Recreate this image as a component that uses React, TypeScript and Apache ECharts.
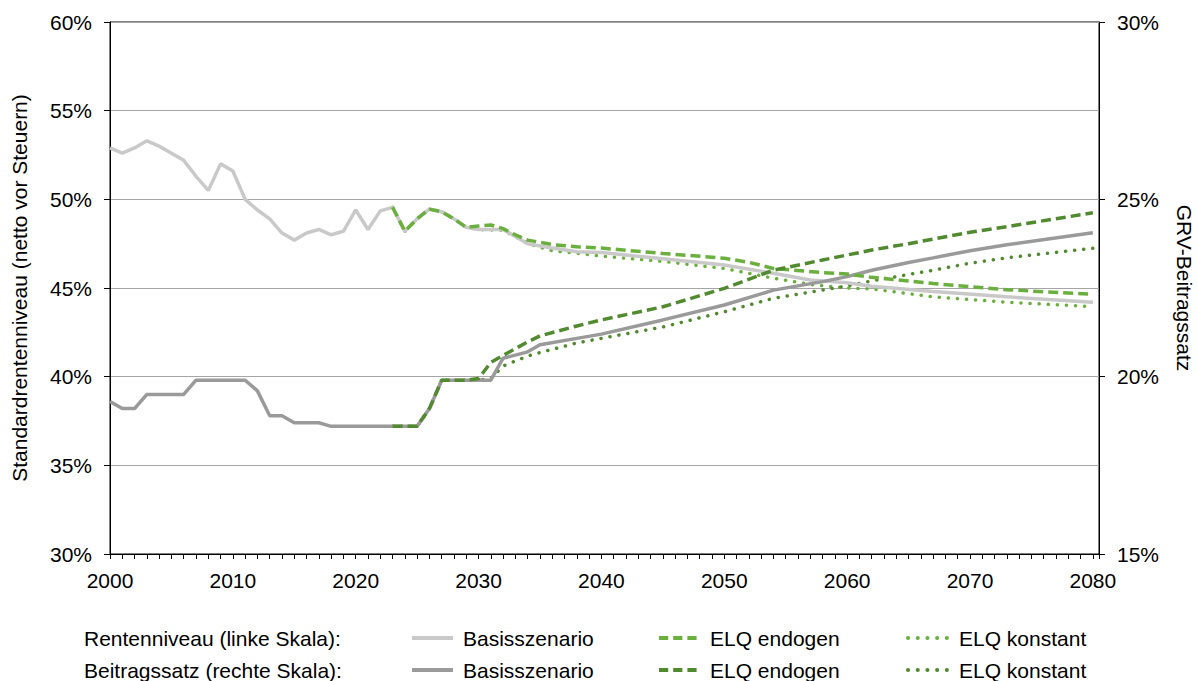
import React, { useEffect, useRef } from 'react';
import * as echarts from 'echarts';

// Rentenniveau (left axis, %)
const rnBasisYears = [2000, 2001, 2002, 2003, 2004, 2005, 2006, 2007, 2008, 2009, 2010, 2011, 2012, 2013, 2014, 2015, 2016, 2017, 2018, 2019, 2020, 2021, 2022, 2023, 2024, 2025, 2026, 2027, 2028, 2029, 2030, 2031, 2032, 2033, 2034, 2036, 2038, 2040, 2045, 2050, 2054, 2057, 2060, 2062, 2067, 2073, 2080];
const rnBasisValues = [52.9, 52.6, 52.9, 53.3, 53.0, 52.6, 52.2, 51.3, 50.5, 52.0, 51.6, 50.0, 49.4, 48.9, 48.1, 47.7, 48.1, 48.3, 48.0, 48.2, 49.4, 48.3, 49.35, 49.55, 48.2, 48.9, 49.45, 49.3, 48.9, 48.42, 48.3, 48.3, 48.3, 47.9, 47.5, 47.25, 47.05, 47.0, 46.65, 46.3, 45.83, 45.45, 45.3, 45.1, 44.8, 44.5, 44.2];

const rnEndoYears = [2023, 2024, 2025, 2026, 2027, 2028, 2029, 2030, 2031, 2032, 2033, 2034, 2036, 2038, 2040, 2045, 2050, 2052, 2054, 2058, 2060, 2062, 2067, 2073, 2080];
const rnEndoValues = [49.55, 48.2, 48.9, 49.45, 49.3, 48.9, 48.42, 48.5, 48.55, 48.35, 48.0, 47.7, 47.45, 47.32, 47.25, 46.95, 46.68, 46.45, 46.1, 45.87, 45.79, 45.6, 45.25, 44.9, 44.65];

const rnKonstYears = [2023, 2024, 2025, 2026, 2027, 2028, 2029, 2030, 2031, 2032, 2033, 2034, 2036, 2038, 2040, 2045, 2050, 2054, 2057, 2060, 2062, 2067, 2073, 2080];
const rnKonstValues = [49.55, 48.2, 48.9, 49.45, 49.3, 48.9, 48.42, 48.3, 48.27, 48.25, 47.9, 47.5, 47.1, 46.96, 46.8, 46.5, 46.1, 45.55, 45.2, 45.0, 44.95, 44.5, 44.2, 43.95];

// Beitragssatz (right axis, %)
const bsBasisYears = [2000, 2001, 2002, 2003, 2004, 2005, 2006, 2007, 2008, 2009, 2010, 2011, 2012, 2013, 2014, 2015, 2016, 2017, 2018, 2019, 2020, 2021, 2022, 2023, 2024, 2025, 2026, 2027, 2028, 2029, 2030, 2031, 2032, 2034, 2035, 2038, 2040, 2045, 2050, 2054, 2058, 2060, 2062, 2065, 2067, 2070, 2073, 2080];
const bsBasisValues = [19.3, 19.1, 19.1, 19.5, 19.5, 19.5, 19.5, 19.9, 19.9, 19.9, 19.9, 19.9, 19.6, 18.9, 18.9, 18.7, 18.7, 18.7, 18.6, 18.6, 18.6, 18.6, 18.6, 18.6, 18.6, 18.6, 19.1, 19.9, 19.9, 19.9, 19.9, 19.9, 20.52, 20.7, 20.9, 21.08, 21.2, 21.6, 22.02, 22.44, 22.68, 22.82, 23.0, 23.22, 23.35, 23.55, 23.72, 24.06];

const bsEndoYears = [2023, 2024, 2025, 2026, 2027, 2028, 2029, 2030, 2031, 2032, 2034, 2035, 2038, 2040, 2045, 2050, 2054, 2058, 2060, 2062, 2065, 2067, 2070, 2073, 2080];
const bsEndoValues = [18.6, 18.6, 18.6, 19.1, 19.9, 19.9, 19.9, 19.95, 20.4, 20.6, 20.98, 21.15, 21.43, 21.6, 21.97, 22.49, 23.0, 23.29, 23.43, 23.57, 23.75, 23.88, 24.07, 24.23, 24.62];

const bsKonstYears = [2023, 2024, 2025, 2026, 2027, 2028, 2029, 2030, 2031, 2032, 2034, 2035, 2038, 2040, 2045, 2050, 2054, 2058, 2060, 2062, 2065, 2067, 2070, 2073, 2080];
const bsKonstValues = [18.6, 18.6, 18.6, 19.1, 19.9, 19.9, 19.9, 19.9, 19.95, 20.3, 20.58, 20.68, 20.95, 21.08, 21.4, 21.83, 22.21, 22.44, 22.56, 22.7, 22.88, 23.0, 23.2, 23.35, 23.62];

const FONT = '"Liberation Sans", Arial, sans-serif';
const LIGHT_GRAY = '#c9c9c9';
const DARK_GRAY = '#9a9a9a';
const LIGHT_GREEN = '#6bb03f';
const DARK_GREEN = '#528a30';

const pairs = (xs: number[], ys: number[]) => xs.map((x, i) => [x, ys[i]]);

const DASH = [10, 5];
const DOT = [0.1, 9];

export default function App() {
  const ref = useRef<HTMLDivElement>(null);
  useEffect(() => {
    document.body.style.margin = '0';
    const chart = echarts.init(ref.current!, undefined, { renderer: 'svg' });
    const textStyle = { fontFamily: FONT, fontSize: 21, fill: '#000', verticalAlign: 'middle' as const };
    const row1 = 638;
    const row2 = 670;
    const legendLine = (x1: number, x2: number, y: number, color: string, dash: number[] | null) => ({
      type: 'line',
      shape: { x1, y1: y, x2, y2: y },
      style: {
        stroke: color,
        lineWidth: 4,
        lineDash: dash || undefined,
        lineCap: dash && dash[0] < 1 ? 'round' : 'butt',
      },
      silent: true,
    });
    chart.setOption({
      animation: false,
      backgroundColor: '#fff',
      grid: {
        left: 110,
        top: 22,
        right: 99,
        bottom: 127,
        show: true,
        borderColor: '#000',
        borderWidth: 1,
        containLabel: false,
        outerBoundsMode: 'none',
      },
      xAxis: {
        type: 'value',
        min: 2000,
        max: 2080.5,
        interval: 1,
        axisLine: { show: true, lineStyle: { color: '#000', width: 1 } },
        axisTick: { show: true, length: 5, lineStyle: { color: '#000' } },
        axisLabel: {
          fontFamily: FONT,
          fontSize: 21,
          color: '#000',
          margin: 16,
          formatter: (v: number) => (v % 10 === 0 ? String(v) : ''),
        },
        splitLine: { show: false },
      },
      yAxis: [
        {
          type: 'value',
          min: 30,
          max: 60,
          interval: 5,
          position: 'left',
          name: 'Standardrentenniveau (netto vor Steuern)',
          nameLocation: 'middle',
          nameGap: 80,
          nameTextStyle: { fontFamily: FONT, fontSize: 21, color: '#000' },
          axisLine: { show: true, lineStyle: { color: '#000', width: 1 } },
          axisTick: { show: true, length: 6, lineStyle: { color: '#000' } },
          axisLabel: { fontFamily: FONT, fontSize: 21, color: '#000', margin: 18, formatter: '{value}%' },
          splitLine: { show: true, lineStyle: { color: '#a6a6a6', width: 1 } },
        },
        {
          type: 'value',
          min: 15,
          max: 30,
          interval: 5,
          position: 'right',
          name: 'GRV-Beitragssatz',
          nameLocation: 'middle',
          nameRotate: -90,
          nameGap: 75,
          nameTextStyle: { fontFamily: FONT, fontSize: 21, color: '#000' },
          axisLine: { show: true, lineStyle: { color: '#000', width: 1 } },
          axisTick: { show: true, length: 6, lineStyle: { color: '#000' } },
          axisLabel: { fontFamily: FONT, fontSize: 21, color: '#000', margin: 18, formatter: '{value}%' },
          splitLine: { show: false },
        },
      ],
      series: [
        {
          name: 'Rentenniveau ELQ konstant',
          type: 'line',
          yAxisIndex: 0,
          data: pairs(rnKonstYears, rnKonstValues),
          showSymbol: false,
          lineStyle: { color: LIGHT_GREEN, width: 3.5, type: DOT, cap: 'round' },
          z: 2,
        },
        {
          name: 'Beitragssatz ELQ konstant',
          type: 'line',
          yAxisIndex: 1,
          data: pairs(bsKonstYears, bsKonstValues),
          showSymbol: false,
          lineStyle: { color: DARK_GREEN, width: 3.5, type: DOT, cap: 'round' },
          z: 2,
        },
        {
          name: 'Rentenniveau Basisszenario',
          type: 'line',
          yAxisIndex: 0,
          data: pairs(rnBasisYears, rnBasisValues),
          showSymbol: false,
          lineStyle: { color: LIGHT_GRAY, width: 3.5 },
          z: 3,
        },
        {
          name: 'Beitragssatz Basisszenario',
          type: 'line',
          yAxisIndex: 1,
          data: pairs(bsBasisYears, bsBasisValues),
          showSymbol: false,
          lineStyle: { color: DARK_GRAY, width: 3.5 },
          z: 3,
        },
        {
          name: 'Rentenniveau ELQ endogen',
          type: 'line',
          yAxisIndex: 0,
          data: pairs(rnEndoYears, rnEndoValues),
          showSymbol: false,
          lineStyle: { color: LIGHT_GREEN, width: 3.5, type: DASH },
          z: 4,
        },
        {
          name: 'Beitragssatz ELQ endogen',
          type: 'line',
          yAxisIndex: 1,
          data: pairs(bsEndoYears, bsEndoValues),
          showSymbol: false,
          lineStyle: { color: DARK_GREEN, width: 3.5, type: DASH },
          z: 4,
        },
      ],
      graphic: [
        { type: 'text', x: 84, y: row1, style: { ...textStyle, text: 'Rentenniveau (linke Skala):' }, silent: true },
        { type: 'text', x: 84, y: row2, style: { ...textStyle, text: 'Beitragssatz (rechte Skala):' }, silent: true },
        legendLine(412, 453, row1, LIGHT_GRAY, null),
        legendLine(412, 453, row2, DARK_GRAY, null),
        { type: 'text', x: 463, y: row1, style: { ...textStyle, text: 'Basisszenario' }, silent: true },
        { type: 'text', x: 463, y: row2, style: { ...textStyle, text: 'Basisszenario' }, silent: true },
        legendLine(659, 697, row1, LIGHT_GREEN, [9.2, 5]),
        legendLine(659, 697, row2, DARK_GREEN, [9.2, 5]),
        { type: 'text', x: 710, y: row1, style: { ...textStyle, text: 'ELQ endogen' }, silent: true },
        { type: 'text', x: 710, y: row2, style: { ...textStyle, text: 'ELQ endogen' }, silent: true },
        legendLine(908, 947, row1, LIGHT_GREEN, [0.1, 9.6]),
        legendLine(908, 947, row2, DARK_GREEN, [0.1, 9.6]),
        { type: 'text', x: 959, y: row1, style: { ...textStyle, text: 'ELQ konstant' }, silent: true },
        { type: 'text', x: 959, y: row2, style: { ...textStyle, text: 'ELQ konstant' }, silent: true },
      ],
    });
    return () => chart.dispose();
  }, []);
  return <div ref={ref} style={{ width: 1198, height: 681 }} />;
}
